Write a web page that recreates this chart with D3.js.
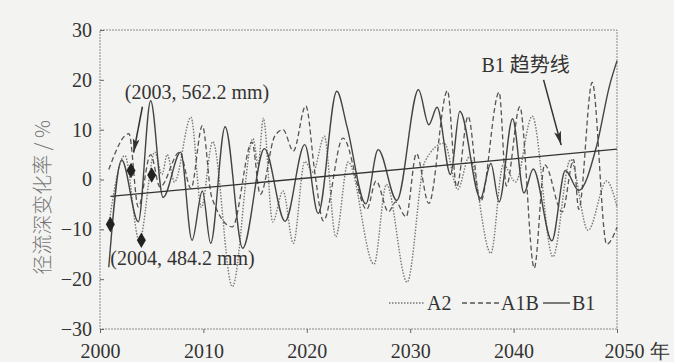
<!DOCTYPE html>
<html>
<head>
<meta charset="utf-8">
<script src="https://cdn.jsdelivr.net/npm/d3@7"></script>
<style>
  body { margin: 0; background: #f3f3f1; }
  svg { display: block; }
  .axis text { font-family: "Liberation Serif", serif; font-size: 20px; fill: #333; }
  .axis line { stroke: #666; }
  .axis path { display: none; }
</style>
</head>
<body>
<script>
// runoff depth change (%), points at turning points of each curve
const b1Years = [2000.85, 2002.1, 2003.7, 2004.9, 2006.1, 2007.8, 2008.9, 2009.9, 2010.7, 2012.1, 2013.8, 2015.9, 2017.9, 2019.8, 2021.1, 2022.9, 2023.9, 2025.7, 2026.9, 2028.7, 2030.8, 2031.8, 2032.6, 2033.9, 2034.8, 2036.8, 2037.8, 2038.6, 2039.9, 2041.0, 2041.9, 2043.7, 2045.0, 2046.3, 2048.0, 2049.3, 2050];
const b1Values = [-17.6, 3.9, -8.5, 15.8, -3.6, 5.5, -12.2, -2.3, -12.8, 10.6, -13.8, 6.2, -8.4, 7, -6.8, 17.7, 10.5, -4.9, 6, -4.2, 18, 11, 14.5, 1, 13.7, -3.8, 3.2, -4.5, 12.2, -2.7, 2.1, -12.3, 1.8, -2.2, 6.5, 19, 23.8];

const a1bYears = [2000.85, 2002.8, 2003.7, 2004.9, 2005.8, 2007.7, 2008.8, 2009.9, 2010.8, 2012.8, 2014.7, 2015.5, 2016.9, 2017.7, 2018.7, 2019.9, 2020.8, 2021.6, 2023.5, 2025.8, 2026.7, 2027.9, 2028.6, 2029.6, 2030.6, 2031.8, 2033.6, 2034.5, 2035.6, 2036.8, 2038.6, 2039.3, 2040.6, 2042.0, 2043.0, 2044.7, 2045.8, 2046.3, 2047.6, 2049.0, 2050];
const a1bValues = [2, 9.2, -5.5, 5, -1.5, 5.5, -1.8, 10.8, -3.5, -9.5, 7.5, -3, 8.7, 10, 5.7, 14.8, 1, -8.3, 8.3, -6, -0.3, -6.5, -4.5, -7.5, 5.2, -4.8, 17.8, -1.5, 12.7, -4.5, 17.5, -1.3, 14.6, -17.8, 3, -6.5, 4, -6, 19.5, -13, -9.6];

const a2Years = [2000.85, 2002.4, 2003.8, 2005.3, 2006.0, 2006.5, 2007.2, 2008.8, 2009.8, 2010.9, 2012.8, 2014.8, 2015.3, 2015.8, 2016.7, 2017.7, 2018.7, 2019.8, 2020.6, 2021.7, 2022.8, 2024.0, 2026.5, 2027.7, 2029.7, 2031.4, 2033.3, 2034.6, 2035.7, 2037.8, 2039.0, 2040.2, 2041.8, 2043.8, 2045.5, 2047.2, 2049.0, 2050];
const a2Values = [-9, 4.8, -12.3, 5.5, 1, 5, -0.5, 12.5, -5.6, 7.6, -21.5, 8.2, 3, 12.3, -8.5, -2.3, -12.8, 3.6, 1.5, 8.7, -11.5, 3.5, -17, -1, -20.6, 3.5, 7.3, -2, 4.5, -14.8, 3, -0.5, 12.7, -15.5, 4, -10.2, -0.3, -5.5];

// B1 linear trend
const trendYears = [2001, 2050];
const trendValues = [-3.4, 6.1];

// observed points
const obsYears = [2001, 2003, 2004, 2005];
const obsValues = [-9, 1.8, -12.2, 0.9];

const xTicks = [2000, 2010, 2020, 2030, 2040, 2050];
const yTicks = [-30, -20, -10, 0, 10, 20, 30];

const W = 674, H = 362;
const frame = { left: 100, right: 617, top: 30, bottom: 329 };

const svg = d3.select('body').append('svg')
    .attr('width', W)
    .attr('height', H);

svg.append('rect').attr('width', W).attr('height', H).attr('fill', '#f3f3f1');

const x = d3.scaleLinear().domain([2000, 2050]).range([frame.left, frame.right]);
const y = d3.scaleLinear().domain([-30, 30]).range([frame.bottom, frame.top]);

// arrow head
svg.append('defs').append('marker')
    .attr('id', 'arr')
    .attr('markerUnits', 'userSpaceOnUse')
    .attr('markerWidth', 14).attr('markerHeight', 7)
    .attr('refX', 14).attr('refY', 3.5)
    .attr('orient', 'auto')
    .append('path')
    .attr('d', 'M0,0 L14,3.5 L0,7 L3,3.5 z')
    .attr('fill', '#333');

// frame
svg.append('rect')
    .attr('x', frame.left).attr('y', frame.top)
    .attr('width', frame.right - frame.left).attr('height', frame.bottom - frame.top)
    .attr('fill', 'none')
    .attr('stroke', '#888')
    .attr('stroke-width', 1)
    .attr('stroke-dasharray', '2,1');

// axes
svg.append('g')
    .attr('class', 'axis')
    .attr('transform', `translate(0,${frame.bottom})`)
    .call(d3.axisBottom(x).tickValues(xTicks).tickSizeInner(4).tickSizeOuter(0).tickPadding(11)
        .tickFormat(d => d === 2050 ? '2050 年' : d))
    .selectAll('text')
    .filter(d => d === 2050)
    .attr('text-anchor', 'start')
    .attr('x', -13);

svg.append('g')
    .attr('class', 'axis')
    .attr('transform', `translate(${frame.left},0)`)
    .call(d3.axisLeft(y).tickValues(yTicks).tickSizeInner(-4).tickSizeOuter(0).tickPadding(8));

// y title
svg.append('text')
    .attr('transform', `translate(50,${(frame.top + frame.bottom) / 2 + 18}) rotate(-90)`)
    .attr('text-anchor', 'middle')
    .attr('font-family', '"Noto Sans CJK SC", sans-serif')
    .attr('font-size', 20)
    .attr('font-weight', 300)
    .attr('fill', '#777')
    .text('径流深变化率 / %');

const line = d3.line()
    .x(d => x(d[0]))
    .y(d => y(d[1]))
    .curve(d3.curveMonotoneX);

const plot = svg.append('g');

plot.append('path')
    .datum(d3.zip(a2Years, a2Values))
    .attr('d', line)
    .attr('fill', 'none')
    .attr('stroke', '#777')
    .attr('stroke-width', 1.4)
    .attr('stroke-dasharray', '1.5,1.5');

plot.append('path')
    .datum(d3.zip(a1bYears, a1bValues))
    .attr('d', line)
    .attr('fill', 'none')
    .attr('stroke', '#555')
    .attr('stroke-width', 1.3)
    .attr('stroke-dasharray', '5,3');

plot.append('path')
    .datum(d3.zip(b1Years, b1Values))
    .attr('d', line)
    .attr('fill', 'none')
    .attr('stroke', '#444')
    .attr('stroke-width', 1.4);

plot.append('path')
    .datum(d3.zip(trendYears, trendValues))
    .attr('d', d3.line().x(d => x(d[0])).y(d => y(d[1])))
    .attr('fill', 'none')
    .attr('stroke', '#333')
    .attr('stroke-width', 1.3);

plot.selectAll('path.obs')
    .data(d3.zip(obsYears, obsValues))
    .join('path')
    .attr('class', 'obs')
    .attr('transform', d => `translate(${x(d[0])},${y(d[1])})`)
    .attr('d', d3.symbol(d3.symbolDiamond, 70))
    .attr('fill', '#222');

// annotations
const note = svg.append('g')
    .attr('font-family', '"Liberation Serif", "Noto Sans CJK SC", serif')
    .attr('font-size', 20)
    .attr('fill', '#333');

note.append('text').attr('x', x(2002.4)).attr('y', y(16.2)).text('(2003, 562.2 mm)');
note.append('text').attr('x', x(2001.0)).attr('y', y(-17.2)).text('(2004, 484.2 mm)');
note.append('text').attr('x', x(2036.9)).attr('y', y(21.6)).text('B1 趋势线');

note.append('line')
    .attr('x1', x(2004.1)).attr('y1', y(14.6))
    .attr('x2', x(2003.25)).attr('y2', y(5.4))
    .attr('stroke', '#333').attr('stroke-width', 1.5)
    .attr('marker-end', 'url(#arr)');

note.append('line')
    .attr('x1', x(2042.9)).attr('y1', y(20))
    .attr('x2', x(2044.6)).attr('y2', y(6.9))
    .attr('stroke', '#333').attr('stroke-width', 1.5)
    .attr('marker-end', 'url(#arr)');

// legend
const legend = [
  { name: 'A2', x0: 389, x1: 425, dash: '1.5,1.5', color: '#777' },
  { name: 'A1B', x0: 462, x1: 499, dash: '5,3', color: '#555' },
  { name: 'B1', x0: 543, x1: 570, dash: null, color: '#444' }
];
const lg = svg.append('g');
legend.forEach(d => {
  lg.append('line')
      .attr('x1', d.x0).attr('x2', d.x1)
      .attr('y1', 303).attr('y2', 303)
      .attr('stroke', d.color)
      .attr('stroke-width', 1.4)
      .attr('stroke-dasharray', d.dash);
  lg.append('text')
      .attr('x', d.x1 + 2).attr('y', 310)
      .attr('font-family', '"Liberation Serif", serif')
      .attr('font-size', 20)
      .attr('fill', '#333')
      .text(d.name);
});
</script>
</body>
</html>
